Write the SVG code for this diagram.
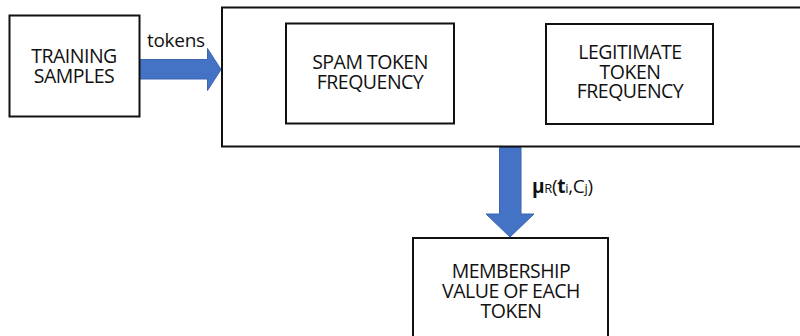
<svg xmlns="http://www.w3.org/2000/svg" width="800" height="336" viewBox="0 0 800 336">
  <style>
    .box { fill: #ffffff; stroke: #111111; stroke-width: 2; }
    .lbl { font-family: "Open Sans", "Liberation Sans", sans-serif; font-size: 19.5px; letter-spacing: -0.5px; fill: #111111; text-anchor: middle; }
    .edge { font-family: "Open Sans", "Liberation Sans", sans-serif; font-size: 19px; letter-spacing: -0.3px; fill: #111111; }
    .arrow { fill: #4472c4; stroke: #3b65b0; stroke-width: 1; }
    .sm { font-size: 13px; }
    .b { font-weight: bold; }
  </style>
  <rect width="800" height="336" fill="#ffffff"/>

  <!-- connectors: block arrows -->
  <g id="connectors">
    <path class="arrow" d="M139,59.5 H207.5 V48.5 L221,69.5 L207.5,90.5 V79 H139 Z"/>
    <text class="edge" x="147" y="47">tokens</text>
    <path class="arrow" d="M499.5,147.5 H521 V214 H534 L510,237 L486,214 H499.5 Z"/>
    <text class="edge" x="532" y="193"><tspan class="b">μ</tspan><tspan class="sm">R</tspan>(<tspan class="b">t</tspan><tspan class="sm">i</tspan>,C<tspan class="sm">j</tspan>)</text>
  </g>

  <g id="training-samples">
    <rect class="box" x="9.5" y="15.5" width="130" height="101"/>
    <text class="lbl"><tspan x="74" y="63">TRAINING</tspan><tspan x="74" y="83">SAMPLES</tspan></text>
  </g>

  <g id="token-frequency">
    <rect class="box" x="222" y="7.5" width="590" height="139"/>
  </g>

  <g id="spam-token-frequency">
    <rect class="box" x="286" y="23.5" width="168" height="100"/>
    <text class="lbl"><tspan x="370" y="69">SPAM TOKEN</tspan><tspan x="370" y="89">FREQUENCY</tspan></text>
  </g>

  <g id="legitimate-token-frequency">
    <rect class="box" x="546" y="24" width="167" height="100"/>
    <text class="lbl"><tspan x="630" y="59">LEGITIMATE</tspan><tspan x="630" y="78.5">TOKEN</tspan><tspan x="630" y="98">FREQUENCY</tspan></text>
  </g>

  <g id="membership-value">
    <rect class="box" x="413" y="238" width="195" height="110"/>
    <text class="lbl"><tspan x="511" y="278">MEMBERSHIP</tspan><tspan x="511" y="298">VALUE OF EACH</tspan><tspan x="511" y="318">TOKEN</tspan></text>
  </g>
</svg>
